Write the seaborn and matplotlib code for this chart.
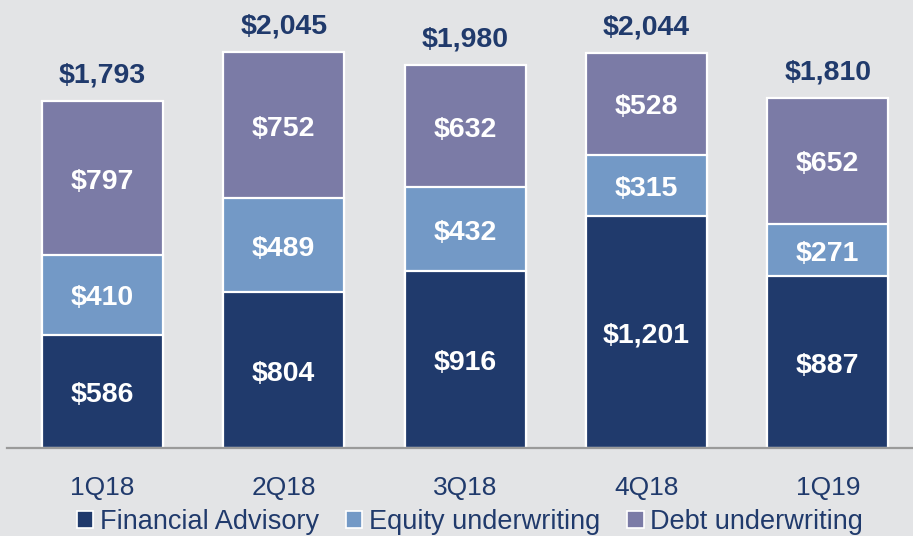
import matplotlib
matplotlib.use('Agg')
import matplotlib.pyplot as plt
import pandas as pd
import seaborn as sns
from matplotlib.patches import Patch

# data ($ millions)
quarters = ['1Q18', '2Q18', '3Q18', '4Q18', '1Q19']
advisory = [586, 804, 916, 1201, 887]
equity = [410, 489, 432, 315, 271]
debt = [797, 752, 632, 528, 652]
totals = [1793, 2045, 1980, 2044, 1810]
series_names = ['Financial Advisory', 'Equity underwriting', 'Debt underwriting']

navy = '#203a6c'
light_blue = '#7399c6'
purple = '#7b7ba6'
bg = '#e3e4e6'

df = pd.DataFrame({'quarter': quarters, 'advisory': advisory,
                   'equity': equity, 'debt': debt})
df['adv_eq'] = df['advisory'] + df['equity']
df['all'] = df['adv_eq'] + df['debt']

sns.set_theme(style='white')
plt.rcParams['font.family'] = ['Liberation Sans', 'DejaVu Sans']

fig = plt.figure(figsize=(9.13, 5.36), dpi=100, facecolor=bg)
ax = fig.add_axes([7 / 913, 88 / 536, 1 - 7 / 913, 448 / 536])
ax.set_facecolor(bg)

# stacked bars: draw cumulative heights, tallest first
for col, color in [('all', purple), ('adv_eq', light_blue), ('advisory', navy)]:
    sns.barplot(data=df, x='quarter', y=col, color=color, width=0.667,
                edgecolor='white', linewidth=1.6, saturation=1, ax=ax)

ax.set_xlim(-0.526, 4.47)
ax.set_ylim(0, 2316)

# segment labels
for i in range(len(quarters)):
    base = 0
    for val in (advisory[i], equity[i], debt[i]):
        ax.annotate(f'${val:,}', (i, base + val / 2), xytext=(0, -2.5),
                    textcoords='offset points', ha='center', va='center',
                    color='white', fontsize=20.5, fontweight='bold')
        base += val
    ax.annotate(f'${totals[i]:,}', (i, totals[i]), xytext=(0, 9),
                textcoords='offset points', ha='center', va='bottom',
                color=navy, fontsize=20.5, fontweight='bold')

ax.set_xlabel('')
ax.set_ylabel('')
ax.set_yticks([])
for side in ['top', 'left', 'right']:
    ax.spines[side].set_visible(False)
ax.spines['bottom'].set_color('#9a9a9a')
ax.spines['bottom'].set_linewidth(1.6)
ax.tick_params(axis='x', length=0, pad=20, labelsize=19, labelcolor=navy)
for lbl in ax.get_xticklabels():
    lbl.set_x(lbl.get_position()[0])
    lbl.set_fontsize(19)

handles = [Patch(facecolor=c, edgecolor='white', linewidth=1.2)
           for c in (navy, light_blue, purple)]
leg = fig.legend(handles, series_names, loc='center',
                 bbox_to_anchor=(470 / 913, 14 / 536), ncol=3, frameon=False,
                 handlelength=0.6, handleheight=0.6, handletextpad=0.25,
                 columnspacing=1.0, borderaxespad=0, prop={'size': 19.5})
for t in leg.get_texts():
    t.set_color(navy)

fig.savefig('out.png', dpi=100, facecolor=bg)
